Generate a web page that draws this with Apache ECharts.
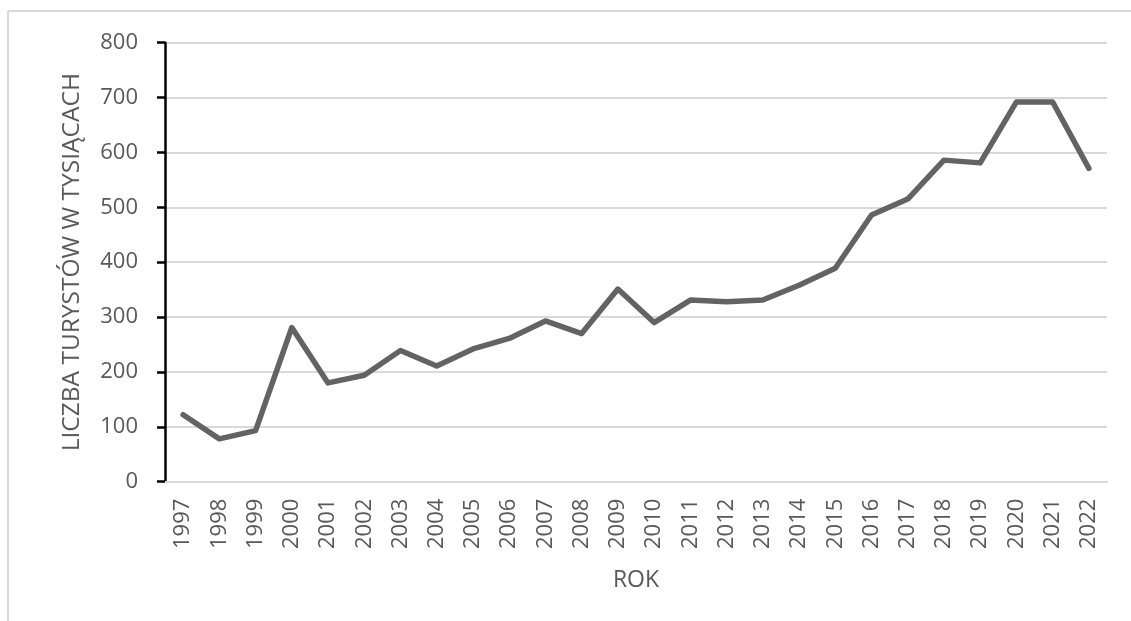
<!DOCTYPE html>
<html>
<head>
<meta charset="utf-8">
<script src="https://cdn.jsdelivr.net/npm/echarts@6/dist/echarts.min.js"></script>
<style>
  html, body { margin: 0; padding: 0; background: #ffffff; }
  #chart { width: 1131px; height: 621px; }
</style>
</head>
<body>
<div id="chart"></div>
<script>
// Liczba turystów (w tysiącach) w kolejnych latach
const years = ['1997','1998','1999','2000','2001','2002','2003','2004','2005','2006','2007','2008','2009',
               '2010','2011','2012','2013','2014','2015','2016','2017','2018','2019','2020','2021','2022'];
const tourists = [122, 78, 93, 281, 180, 194, 239, 211, 242, 261, 293, 270, 351,
                  290, 331, 328, 331, 358, 389, 486, 515, 586, 581, 692, 692, 571];
const yTicks = [0, 800, 100];  // min, max, interval

const font = '"Open Sans", "Noto Sans", sans-serif';
const textColor = '#595959';

const chart = echarts.init(document.getElementById('chart'), null, { renderer: 'canvas' });
chart.setOption({
  animation: false,
  backgroundColor: '#ffffff',
  grid: { left: 165, right: 24, top: 42.7, bottom: 621 - 481.7, containLabel: false },
  graphic: [
    { type: 'line', shape: { x1: 8, y1: 11, x2: 1131, y2: 11 }, style: { stroke: '#d9d9d9', lineWidth: 2 }, silent: true },
    { type: 'line', shape: { x1: 8, y1: 11, x2: 8, y2: 621 }, style: { stroke: '#d9d9d9', lineWidth: 2 }, silent: true }
  ],
  xAxis: {
    type: 'category',
    data: years,
    boundaryGap: true,
    name: 'ROK',
    nameLocation: 'middle',
    nameGap: 87,
    nameTextStyle: { fontFamily: font, fontSize: 23, color: textColor },
    axisLine: { show: true, lineStyle: { color: '#d9d9d9', width: 2 } },
    axisTick: { show: false },
    axisLabel: { rotate: 90, margin: 17, fontFamily: font, fontSize: 22, color: textColor, interval: 0 },
    splitLine: { show: false }
  },
  yAxis: {
    type: 'value',
    min: yTicks[0],
    max: yTicks[1],
    interval: yTicks[2],
    name: 'LICZBA TURYSTÓW W TYSIĄCACH',
    nameLocation: 'middle',
    nameGap: 80,
    nameRotate: 90,
    nameTextStyle: { fontFamily: font, fontSize: 24.5, color: textColor },
    axisLine: { show: true, lineStyle: { color: '#000000', width: 2.5 } },
    axisTick: { show: true, inside: false, length: 8, lineStyle: { color: '#000000', width: 2.5 } },
    axisLabel: { margin: 27, fontFamily: font, fontSize: 22, color: textColor },
    splitLine: { show: true, lineStyle: { color: '#d9d9d9', width: 2 } }
  },
  series: [{
    type: 'line',
    data: tourists,
    symbol: 'none',
    lineStyle: { color: '#636363', width: 5.5, join: 'round', cap: 'round' },
    z: 5
  }]
});
</script>
</body>
</html>
